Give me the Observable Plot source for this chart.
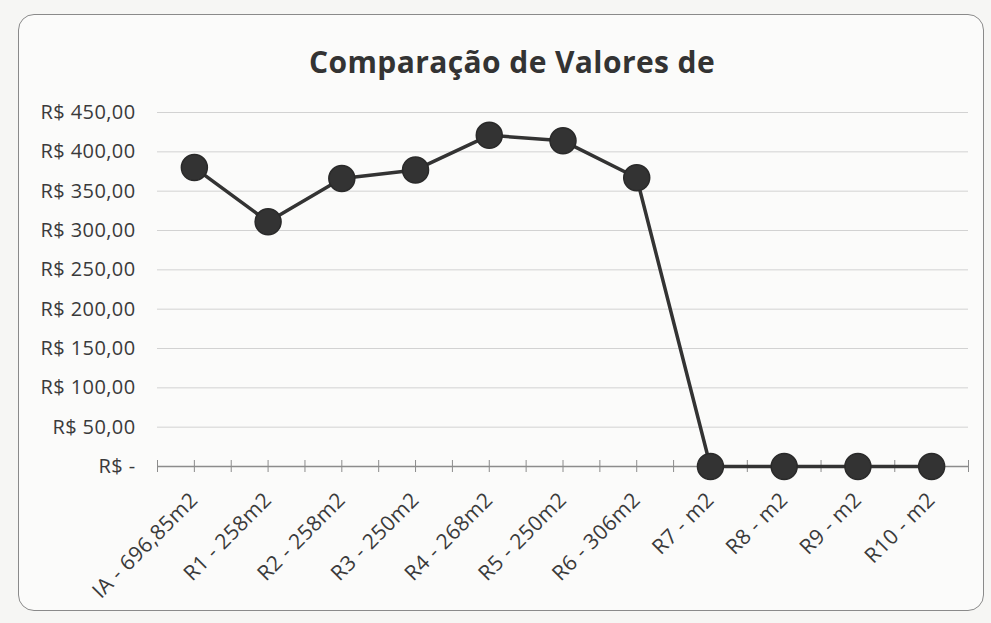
<!DOCTYPE html>
<html>
<head>
<meta charset="utf-8">
<script src="https://cdn.jsdelivr.net/npm/d3@7"></script>
<script src="https://cdn.jsdelivr.net/npm/@observablehq/plot@0.6"></script>
<style>
  html, body { margin: 0; padding: 0; background: #f6f6f4; }
  #wrap { position: relative; width: 991px; height: 623px; overflow: hidden; }
  #card { position: absolute; left: 18px; top: 14px; width: 966px; height: 597px;
          border: 1.5px solid #8a8a8a; border-radius: 16px; background: #fbfbfa; box-sizing: border-box; }
  #chart { position: absolute; left: 0; top: 0; }
  #chart svg text { letter-spacing: 0.4px; }
</style>
</head>
<body>
<div id="wrap"><div id="card"></div><div id="chart"></div></div>
<script>
const title = "Comparação de Valores de";
const categories = ["IA - 696,85m2", "R1 - 258m2", "R2 - 258m2", "R3 - 250m2", "R4 - 268m2",
  "R5 - 250m2", "R6 - 306m2", "R7 - m2", "R8 - m2", "R9 - m2", "R10 - m2"];
const values = [380, 311, 366, 377, 421, 414, 367, 0, 0, 0, 0];
const yTicks = [0, 50, 100, 150, 200, 250, 300, 350, 400, 450];

const data = categories.map((c, i) => ({i, c, v: values[i]}));
const fmt = v => v === 0 ? "R$ -" : "R$ " + d3.format(".2f")(v).replace(".", ",");
const catIdx = d3.range(categories.length);
const halfTicks = d3.range(-0.5, categories.length, 0.5);
const font = "'Open Sans', 'Noto Sans', sans-serif";

const chart = Plot.plot({
  width: 991,
  height: 623,
  marginLeft: 157,
  marginRight: 23,
  marginTop: 112,
  marginBottom: 157,
  style: {background: "transparent", fontFamily: font, color: "#3a3a3a"},
  x: {domain: [-0.5, categories.length - 0.5]},
  y: {domain: [0, 450]},
  marks: [
    Plot.gridY(yTicks.filter(d => d > 0), {stroke: "#d2d2d2", strokeOpacity: 1, strokeWidth: 1}),
    Plot.axisY({ticks: yTicks, tickFormat: fmt, tickSize: 0, tickPadding: 22, fontSize: 20, fill: "#3a3a3a", label: null}),
    Plot.ruleY([0], {stroke: "#8c8c8c", strokeWidth: 1.5}),
    Plot.axisX({ticks: halfTicks, tickFormat: () => "", tickSize: 12, dy: -6, stroke: "#8c8c8c", label: null}),
    Plot.axisX({ticks: catIdx, tickFormat: i => categories[i], tickSize: 0, tickRotate: -45, tickPadding: 30,
                fontSize: 21, fill: "#3a3a3a", label: null}),
    Plot.line(data, {x: "i", y: "v", stroke: "#333333", strokeWidth: 3.5}),
    Plot.dot(data, {x: "i", y: "v", r: 13, fill: "#333333", stroke: "#2a2a2a"}),
    Plot.text([title], {frameAnchor: "top", dx: -51, dy: -61, fontSize: 30, fontWeight: "bold", fill: "#333333", fontFamily: font})
  ]
});
document.getElementById("chart").appendChild(chart);
</script>
</body>
</html>
